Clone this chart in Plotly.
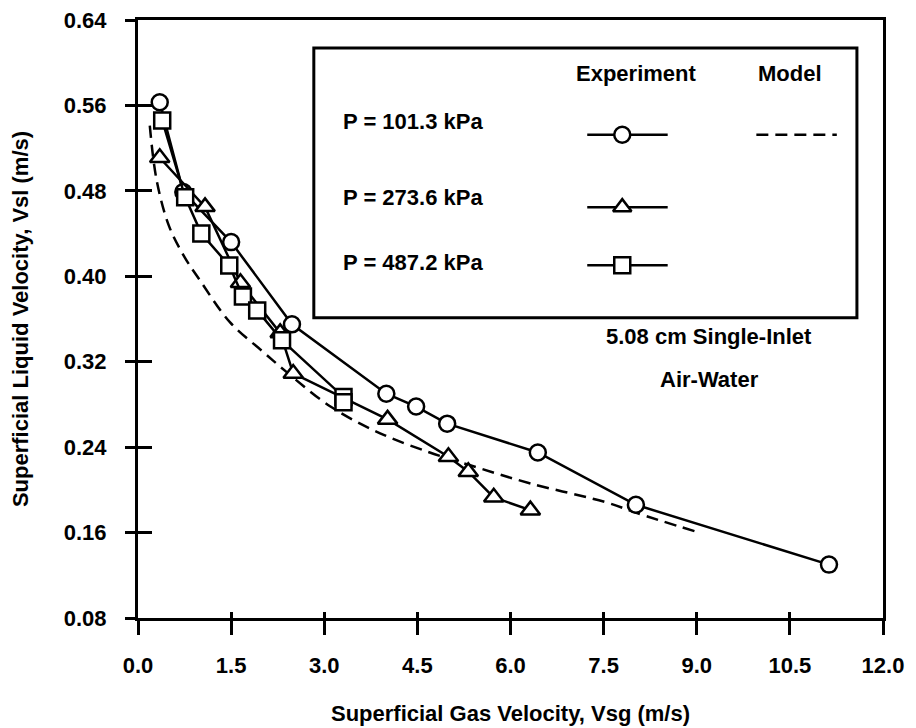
import plotly.graph_objects as go

# ---- data ----
p1013_vsg = [0.35, 0.73, 1.50, 2.48, 4.00, 4.48, 4.98, 6.44, 8.02, 11.13]
p1013_vsl = [0.563, 0.479, 0.432, 0.355, 0.290, 0.278, 0.262, 0.235, 0.186, 0.130]

p2736_vsg = [0.35, 1.08, 1.65, 2.29, 2.50, 4.02, 5.00, 5.32, 5.73, 6.32]
p2736_vsl = [0.511, 0.465, 0.394, 0.347, 0.309, 0.266, 0.231, 0.217, 0.193, 0.181]

p4872_vsg = [0.39, 0.76, 1.02, 1.47, 1.69, 1.92, 2.32, 3.31, 3.31]
p4872_vsl = [0.546, 0.474, 0.440, 0.410, 0.381, 0.368, 0.340, 0.287, 0.282]

model_vsg = [0.19, 0.30, 0.50, 0.75, 1.00, 1.48, 2.00, 2.40, 3.10, 3.90, 4.70, 5.35, 6.32, 7.56, 8.05, 8.98]
model_vsl = [0.541, 0.490, 0.447, 0.418, 0.396, 0.357, 0.330, 0.310, 0.278, 0.253, 0.235, 0.223, 0.206, 0.188, 0.178, 0.161]

x_ticks = [0.0, 1.5, 3.0, 4.5, 6.0, 7.5, 9.0, 10.5, 12.0]
y_ticks = [0.08, 0.16, 0.24, 0.32, 0.40, 0.48, 0.56, 0.64]

series_labels = ["P = 101.3 kPa", "P = 273.6 kPa", "P = 487.2 kPa"]

FONT = "Liberation Sans, Arial, sans-serif"
BLACK = "black"
LW = 2.5
DASH = "12px,7px"

fig = go.Figure()

def mk(sym, size=16):
    return dict(symbol=sym, size=size, color="white", line=dict(color=BLACK, width=2.5))

fig.add_trace(go.Scatter(x=model_vsg, y=model_vsl, mode="lines",
                         line=dict(color=BLACK, width=LW, dash=DASH, shape="spline"),
                         showlegend=False, hoverinfo="skip"))
fig.add_trace(go.Scatter(x=p1013_vsg, y=p1013_vsl, mode="lines+markers",
                         line=dict(color=BLACK, width=LW), marker=mk("circle"), showlegend=False))
fig.add_trace(go.Scatter(x=p2736_vsg, y=p2736_vsl, mode="lines+markers",
                         line=dict(color=BLACK, width=LW), marker=mk("triangle-up", 17), showlegend=False))
fig.add_trace(go.Scatter(x=p4872_vsg, y=p4872_vsl, mode="lines+markers",
                         line=dict(color=BLACK, width=LW), marker=mk("square"), showlegend=False))

# empty trace so the overlay tick axes (inside half of crossing ticks) are drawn
fig.add_trace(go.Scatter(x=[], y=[], xaxis="x2", yaxis="y2", showlegend=False))

# ---- hand-made legend on an overlay [0,1] axis pair ----
leg_y = [0.808, 0.687, 0.590]
leg_x0, leg_x1, leg_xm = 0.603, 0.711, 0.650
symbols = ["circle", "triangle-up", "square"]
for yy, sym in zip(leg_y, symbols):
    fig.add_trace(go.Scatter(x=[leg_x0, leg_x1], y=[yy, yy], xaxis="x3", yaxis="y3",
                             mode="lines", line=dict(color=BLACK, width=LW),
                             showlegend=False, hoverinfo="skip"))
    fig.add_trace(go.Scatter(x=[leg_xm], y=[yy], xaxis="x3", yaxis="y3",
                             mode="markers", marker=mk(sym),
                             showlegend=False, hoverinfo="skip"))
fig.add_trace(go.Scatter(x=[0.830, 0.938], y=[0.808, 0.808], xaxis="x3", yaxis="y3", mode="lines",
                         line=dict(color=BLACK, width=LW, dash=DASH), showlegend=False, hoverinfo="skip"))

fig.add_shape(type="rect", xref="paper", yref="paper", x0=0.236, x1=0.965, y0=0.502, y1=0.953,
              line=dict(color=BLACK, width=3), fillcolor="rgba(0,0,0,0)", layer="below")

tf = dict(family=FONT, size=22, color=BLACK, weight="bold")
anns = [
    dict(text="Experiment", x=0.668, y=0.911, xanchor="center"),
    dict(text="Model", x=0.875, y=0.911, xanchor="center"),
    dict(text=series_labels[0], x=0.272, y=0.831, xanchor="left"),
    dict(text=series_labels[1], x=0.272, y=0.704, xanchor="left"),
    dict(text=series_labels[2], x=0.272, y=0.594, xanchor="left"),
    dict(text="5.08 cm Single-Inlet", x=0.767, y=0.470, xanchor="center"),
    dict(text="Air-Water", x=0.767, y=0.398, xanchor="center"),
]
for a in anns:
    fig.add_annotation(xref="paper", yref="paper", showarrow=False, yanchor="middle", font=tf, **a)

axfont = dict(family=FONT, size=22, color=BLACK, weight="bold")
# the page body adds an 8px offset; size/margins compensate so the plot area lands where the reference has it
fig.update_layout(
    width=908, height=720,
    margin=dict(l=130, r=33, t=12, b=110, autoexpand=False),
    paper_bgcolor="white", plot_bgcolor="white",
    showlegend=False,
    xaxis=dict(range=[0, 12], tickvals=x_ticks, tickformat=".1f", ticks="outside", ticklen=14,
               tickwidth=2.5, tickcolor=BLACK, showline=True, linewidth=3, linecolor=BLACK,
               mirror=True, showgrid=False, zeroline=False, tickfont=axfont, ticklabelstandoff=12,
               automargin=False, ticklabeloverflow="allow",
               title=dict(text="Superficial Gas Velocity, Vsg (m/s)", font=axfont, standoff=29)),
    yaxis=dict(range=[0.08, 0.64], tickvals=y_ticks, tickformat=".2f", ticks="outside", ticklen=10,
               tickwidth=2.5, tickcolor=BLACK, showline=True, linewidth=3, linecolor=BLACK,
               mirror=True, showgrid=False, zeroline=False, tickfont=axfont, ticklabelstandoff=14,
               automargin=False, ticklabeloverflow="allow",
               title=dict(text="Superficial Liquid Velocity, Vsl (m/s)", font=axfont, standoff=40)),
    xaxis2=dict(overlaying="x", range=[0, 12], tickvals=x_ticks, ticks="inside", ticklen=6,
                tickwidth=2.5, tickcolor=BLACK, showticklabels=False, showline=False,
                showgrid=False, zeroline=False),
    yaxis2=dict(overlaying="y", range=[0.08, 0.64], tickvals=y_ticks, ticks="inside", ticklen=14,
                tickwidth=2.5, tickcolor=BLACK, showticklabels=False, showline=False,
                showgrid=False, zeroline=False),
    xaxis3=dict(overlaying="x", range=[0, 1], visible=False),
    yaxis3=dict(overlaying="y", range=[0, 1], visible=False),
)

fig.write_html("out.html")
